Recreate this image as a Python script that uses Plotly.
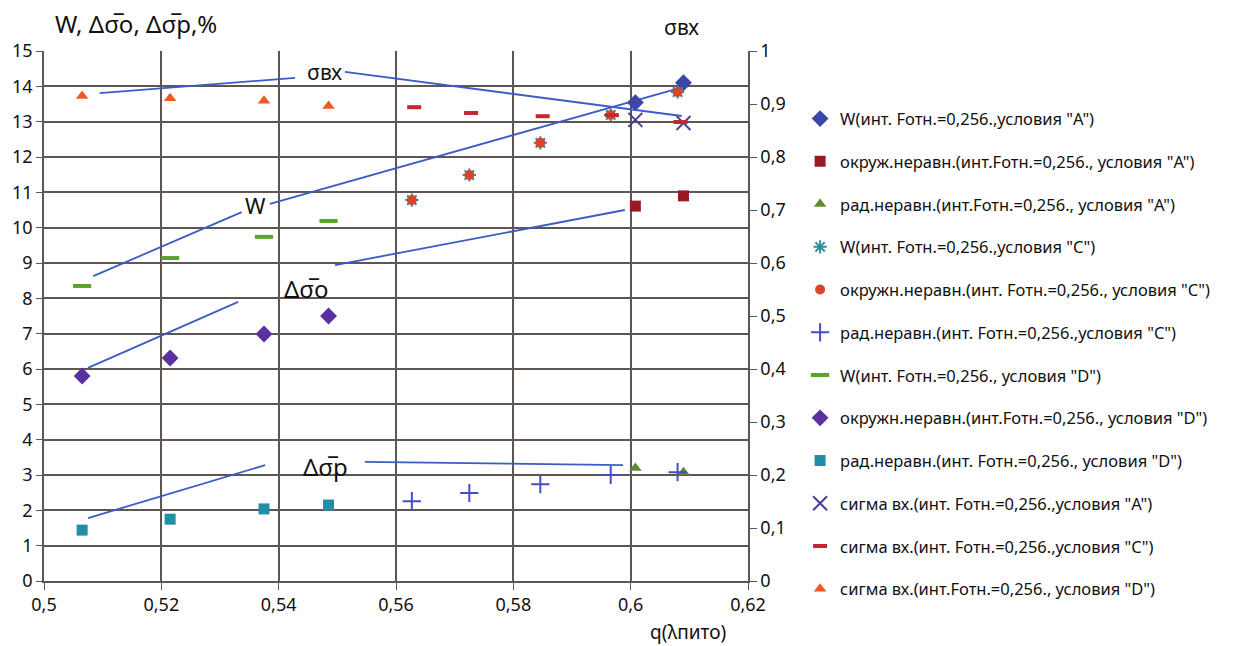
import plotly.graph_objects as go

# ---- data ----
x_A = [0.6008, 0.609]
W_A = [13.54, 14.1]
okr_A = [10.61, 10.9]
rad_A = [3.2, 3.08]
sig_A = [0.870, 0.864]

x_C = [0.5627, 0.5725, 0.5846, 0.5966, 0.608]
W_C = [10.78, 11.49, 12.4, 13.19, 13.84]
okr_C = [10.78, 11.49, 12.4, 13.19, 13.84]
rad_C = [2.26, 2.49, 2.74, 3.0, 3.08]
x_sigC = [0.5631, 0.5728, 0.585, 0.5968, 0.6085]
sig_C = [0.894, 0.883, 0.877, 0.879, 0.866]

x_D = [0.5065, 0.5215, 0.5375, 0.5485]
W_D = [8.35, 9.14, 9.74, 10.19]
okr_D = [5.8, 6.31, 6.99, 7.5]
rad_D = [1.44, 1.75, 2.04, 2.15]
sig_D = [0.915, 0.911, 0.906, 0.896]

# pointer lines (data coords on left axis) and their labels
pointer_x = [[0.5095, 0.5428], [0.5513, 0.6087],
             [0.5084, 0.5337], [0.5385, 0.6089],
             [0.5075, 0.5331], [0.5496, 0.599],
             [0.5075, 0.5377], [0.5547, 0.5987]]
pointer_y = [[13.81, 14.24], [14.41, 13.16],
             [8.63, 10.44], [10.67, 13.98],
             [6.03, 7.90], [8.94, 10.50],
             [1.78, 3.28], [3.37, 3.28]]
label_text = ["σвх", "W", "Δσ\u0305o", "Δσ\u0305p"]
label_x = [0.5478, 0.536, 0.5447, 0.5479]
label_y = [14.4, 10.64, 8.29, 3.23]
label_size = [21, 22, 24, 24]

xticks = [0.5, 0.52, 0.54, 0.56, 0.58, 0.6, 0.62]
names = [
    'W(инт. Fотн.=0,256.,условия "A")',
    'окруж.неравн.(инт.Fотн.=0,256., условия "A")',
    'рад.неравн.(инт.Fотн.=0,256., условия "A")',
    'W(инт. Fотн.=0,256.,условия "C")',
    'окружн.неравн.(инт. Fотн.=0,256., условия "C")',
    'рад.неравн.(инт. Fотн.=0,256.,условия "C")',
    'W(инт. Fотн.=0,256., условия "D")',
    'окружн.неравн.(инт.Fотн.=0,256., условия "D")',
    'рад.неравн.(инт. Fотн.=0,256., условия "D")',
    'сигма вх.(инт. Fотн.=0,256.,условия "A")',
    'сигма вх.(инт. Fотн.=0,256.,условия "C")',
    'сигма вх.(инт.Fотн.=0,256., условия "D")',
]

FONT = "Noto Sans"
GRID = "#5f5552"

fig = go.Figure()

# pointer lines (no legend)
for px, py in zip(pointer_x, pointer_y):
    fig.add_trace(go.Scatter(x=px, y=py, mode="lines",
                             line=dict(color="#3b5cc4", width=1.8),
                             showlegend=False, hoverinfo="skip"))

def mk(x, y, name, symbol, color, size, yaxis="y", lw=0, open_=False):
    m = dict(symbol=symbol, size=size, color=color)
    if open_:
        m["line"] = dict(color=color, width=lw)
    else:
        m["line"] = dict(width=0)
    fig.add_trace(go.Scatter(x=x, y=y, mode="markers", name=name, marker=m,
                             yaxis=yaxis, legendgroup=name))

mk(x_A, W_A, names[0], "diamond", "#3b48aa", 13)
mk(x_A, okr_A, names[1], "square", "#9a1a22", 11)
mk(x_A, rad_A, names[2], "triangle-up", "#5e8a30", 11)
mk(x_C, W_C, names[3], "asterisk-open", "#2b8fa0", 11, lw=2, open_=True)
mk(x_C, okr_C, names[4], "circle", "#d8442c", 10)
mk(x_C, rad_C, names[5], "cross-thin-open", "#4a4bc0", 13, lw=2, open_=True)
mk(x_D, W_D, names[6], "line-ew-open", "#5aa32c", 13, lw=4, open_=True)
mk(x_D, okr_D, names[7], "diamond", "#5a32a0", 13)
mk(x_D, rad_D, names[8], "square", "#1f8fa8", 11)
mk(x_A, sig_A, names[9], "x-thin-open", "#4d3f90", 14, yaxis="y2", lw=2, open_=True)
mk(x_sigC, sig_C, names[10], "line-ew-open", "#c2282e", 10, yaxis="y2", lw=4, open_=True)
mk(x_D, sig_D, names[11], "triangle-up", "#f05a22", 11, yaxis="y2")

for t, lx, ly, fs in zip(label_text, label_x, label_y, label_size):
    fig.add_annotation(x=lx, y=ly, text=t, showarrow=False,
                       font=dict(family=FONT, size=fs, color="#111111"),
                       bgcolor="rgba(0,0,0,0)")

fig.add_annotation(x=0.13, xref="paper", y=1.0, yref="paper", yshift=9,
                   xanchor="center", yanchor="bottom", align="center",
                   text="W, Δσ\u0305o, Δσ\u0305p,%", showarrow=False,
                   font=dict(family=FONT, size=24, color="#111111"))
fig.add_annotation(x=0.905, xref="paper", y=1.0, yref="paper", yshift=8,
                   xanchor="center", yanchor="bottom",
                   text="σвх", showarrow=False,
                   font=dict(family=FONT, size=21, color="#111111"))
fig.add_annotation(x=0.915, xref="paper", y=0, yref="paper", yshift=-36,
                   xanchor="center", yanchor="top",
                   text="q(λпито)", showarrow=False,
                   font=dict(family=FONT, size=19, color="#111111"))

fig.update_layout(
    width=1242, height=646,
    margin=dict(l=44, r=494, t=51, b=65),
    paper_bgcolor="white", plot_bgcolor="white",
    separators=", ",
    font=dict(family=FONT, size=16, color="#111111"),
    xaxis=dict(range=[0.5, 0.62], tickvals=xticks, showgrid=True,
               gridcolor=GRID, gridwidth=1.5, zeroline=False,
               showline=True, linecolor=GRID, linewidth=1.5,
               ticks="outside", ticklen=7, tickcolor=GRID,
               tickfont=dict(size=18)),
    yaxis=dict(range=[0, 15], dtick=1, showgrid=True, gridcolor=GRID,
               gridwidth=1.5, zeroline=False, showline=True,
               linecolor=GRID, linewidth=1.5, ticks="outside", ticklen=6,
               tickcolor=GRID, tickfont=dict(size=18)),
    yaxis2=dict(range=[0, 1], dtick=0.1, overlaying="y", side="right",
                showgrid=False, zeroline=False, showline=True,
                linecolor=GRID, linewidth=1.5, ticks="outside", ticklen=7,
                tickcolor=GRID, tickfont=dict(size=18)),
    legend=dict(x=1.074, y=0.905, xanchor="left", yanchor="top",
                font=dict(family=FONT, size=16.5, color="#111111"),
                tracegroupgap=18.3, itemwidth=30,
                bgcolor="rgba(0,0,0,0)"),
    showlegend=True,
)

fig.write_html("out.html")
